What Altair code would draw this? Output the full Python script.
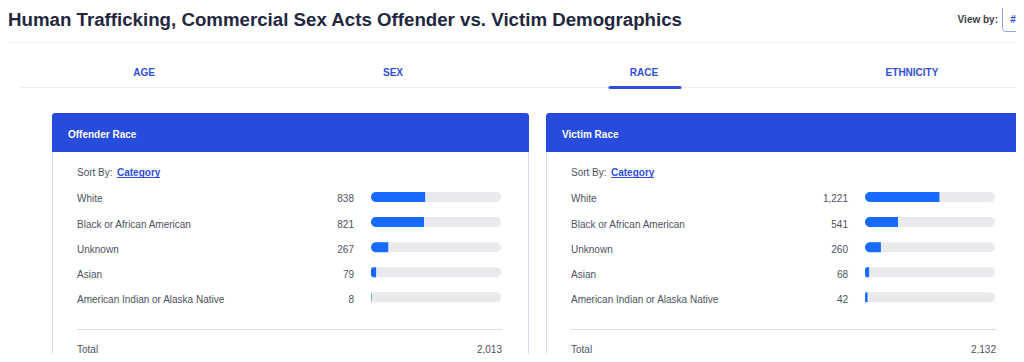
import altair as alt
import pandas as pd

# ---- data ----
categories = ["White", "Black or African American", "Unknown", "Asian",
              "American Indian or Alaska Native"]
offender_counts = [838, 821, 267, 79, 8]
victim_counts = [1221, 541, 260, 68, 42]
panel_titles = ["Offender Race", "Victim Race"]
tabs = ["AGE", "SEX", "RACE", "ETHNICITY"]
page_title = "Human Trafficking, Commercial Sex Acts Offender vs. Victim Demographics"

# ---- layout / style (plot-area pixels) ----
W, H = 1008, 346
FONT = "Liberation Sans, Arial, Helvetica, sans-serif"
BLUE_HDR = "#274bdb"
BLUE_TAB = "#2f4fd8"
BLUE_BAR = "#176bff"
TRACK = "#e8eaee"
TXT = "#4d5260"
BORDER = "#d9dce8"
tab_x = [136, 385, 636, 904]
panel_dx = [0, 494]

one = pd.DataFrame({"k": [0]})


def box(x, x2, y, y2, **mk):
    return alt.Chart(one).mark_rect(**mk).encode(
        x=alt.value(x), x2=alt.value(x2), y=alt.value(y), y2=alt.value(y2))


def rule(x, x2, y, color, width=1, cap="butt"):
    return alt.Chart(one).mark_rule(color=color, strokeWidth=width, strokeCap=cap).encode(
        x=alt.value(x), x2=alt.value(x2), y=alt.value(y))


def label(text, x, y, **mk):
    return alt.Chart(pd.DataFrame({"t": [text]})).mark_text(
        baseline="middle", font=FONT, dy=1.5, **mk).encode(
        x=alt.value(x), y=alt.value(y), text="t:N")


layers = []

# header area
layers.append(label(page_title, 0, 10, align="left", fontSize=18.7,
                    fontWeight="bold", color="#1f2740"))
layers.append(label("View by:", 990, 10, align="right", fontSize=10,
                    fontWeight="bold", color="#3a3f4c"))
layers.append(box(994.5, 1030, -4, 23.5, fill="white", stroke="#8fa3ee",
                  strokeWidth=1, cornerRadius=3))
layers.append(label("#", 1005, 10, align="center", fontSize=10,
                    fontWeight="bold", color=BLUE_TAB))
layers.append(rule(0, W, 34.5, "#f1f2f5"))

# tabs
layers.append(rule(12, W, 79.5, "#eceef3"))
for t, tx in zip(tabs, tab_x):
    layers.append(label(t, tx, 63, align="center", fontSize=10,
                        fontWeight="bold", color=BLUE_TAB))
layers.append(rule(602, 672, 79.5, BLUE_TAB, width=3, cap="round"))

y_scale = alt.Scale(domain=categories, range=[176.4, 301.9],
                    paddingInner=0, paddingOuter=0)


def panel(counts, title, dx):
    out = []
    # card
    out.append(box(44.5 + dx, 520.5 + dx, 105.5, 380, fill="white",
                   stroke=BORDER, strokeWidth=1, cornerRadius=3))
    out.append(box(44 + dx, 521 + dx, 105, 144, fill=BLUE_HDR,
                   cornerRadiusTopLeft=3, cornerRadiusTopRight=3))
    out.append(label(title, 60 + dx, 125, align="left", fontSize=10,
                     fontWeight="bold", color="white"))
    out.append(label("Sort By:", 69 + dx, 163, align="left", fontSize=10,
                     color=TXT))
    out.append(label("Category", 109 + dx, 163, align="left", fontSize=10,
                     fontWeight="bold", color=BLUE_TAB))
    out.append(rule(109 + dx, 152 + dx, 169.5, BLUE_TAB))

    df = pd.DataFrame({"category": categories, "count": counts})
    base = alt.Chart(df).transform_joinaggregate(
        total="sum(count)").transform_calculate(zero="0")
    y = alt.Y("category:N", scale=y_scale, axis=None, sort=categories)
    xs = alt.Scale(range=[363 + dx, 493 + dx], nice=False, zero=True)
    track = base.mark_bar(height=10, cornerRadius=5, color=TRACK).encode(
        x=alt.X("zero:Q", scale=xs, axis=None), x2="total:Q", y=y)
    fill = base.mark_bar(height=10, cornerRadiusTopLeft=5,
                         cornerRadiusBottomLeft=5, color=BLUE_BAR).encode(
        x=alt.X("zero:Q", scale=xs, axis=None), x2="count:Q", y=y)
    out.append(alt.layer(track, fill))

    out.append(alt.Chart(df).mark_text(align="left", baseline="middle", dy=2.5,
                                       font=FONT, fontSize=10, color=TXT).encode(
        x=alt.value(69 + dx), y=y, text="category:N"))
    out.append(alt.Chart(df).mark_text(align="right", baseline="middle", dy=2.5,
                                       font=FONT, fontSize=10, color=TXT).encode(
        x=alt.value(346 + dx), y=y, text=alt.Text("count:Q", format=",")))

    out.append(rule(69 + dx, 494 + dx, 321.5, "#dcdde3"))
    out.append(label("Total", 69 + dx, 340, align="left", fontSize=10, color=TXT))
    out.append(alt.Chart(df).transform_aggregate(total="sum(count)").mark_text(
        align="right", baseline="middle", dy=1.5, font=FONT, fontSize=10,
        color=TXT).encode(
        x=alt.value(494 + dx), y=alt.value(340),
        text=alt.Text("total:Q", format=",")))
    return out


layers += panel(offender_counts, panel_titles[0], panel_dx[0])
layers += panel(victim_counts, panel_titles[1], panel_dx[1])

chart = alt.layer(*layers).resolve_scale(
    x="independent", y="independent").properties(
    width=W, height=H, padding=0,
    autosize=alt.AutoSizeParams(type="none"),
    background="white",
).configure_view(strokeWidth=0)

chart.save("out.html", embed_options={"renderer": "svg", "actions": False})
